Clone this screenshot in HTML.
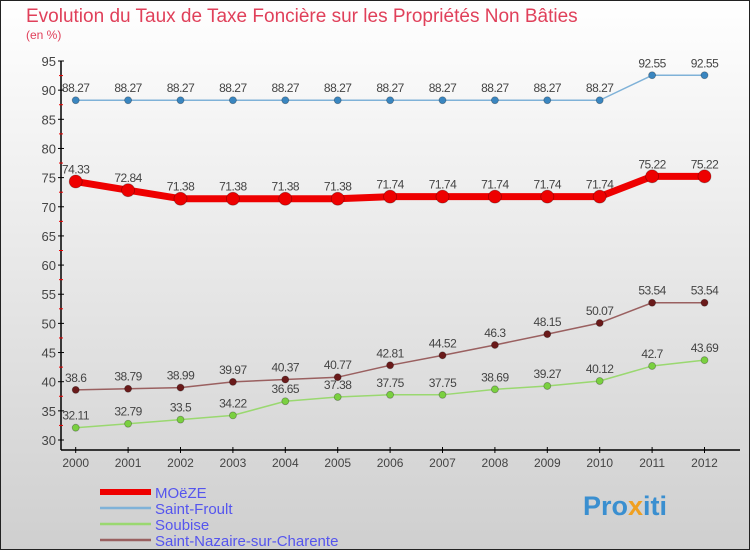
<!DOCTYPE html>
<html><head><meta charset="utf-8"><style>
body{margin:0;width:750px;height:550px;overflow:hidden;font-family:"Liberation Sans",sans-serif}
svg{display:block}
</style></head><body>
<svg width="750" height="550" viewBox="0 0 750 550">
<defs><linearGradient id="bg" x1="0" y1="0" x2="0" y2="1"><stop offset="0" stop-color="#ffffff"/><stop offset="1" stop-color="#cfcfcf"/></linearGradient></defs>
<rect x="0.5" y="0.5" width="749" height="549" fill="url(#bg)" stroke="#222"/>
<text x="26" y="22" font-size="19" fill="#e0405a">Evolution du Taux de Taxe Foncière sur les Propriétés Non Bâties</text>
<text x="26" y="39" font-size="12" fill="#e0405a">(en %)</text>
<g id="axes"></g>
<g id="series"></g>
<g id="legend"></g>
<text x="583" y="515" font-size="27" font-weight="bold" fill="#3a8fd0">Pro<tspan fill="#f0a020">x</tspan>iti</text>
</svg>
<script>
const years=[2000,2001,2002,2003,2004,2005,2006,2007,2008,2009,2010,2011,2012];
const yTicks=[30,35,40,45,50,55,60,65,70,75,80,85,90,95];
const moeze=[74.33,72.84,71.38,71.38,71.38,71.38,71.74,71.74,71.74,71.74,71.74,75.22,75.22];
const froult=[88.27,88.27,88.27,88.27,88.27,88.27,88.27,88.27,88.27,88.27,88.27,92.55,92.55];
const soubise=[32.11,32.79,33.5,34.22,36.65,37.38,37.75,37.75,38.69,39.27,40.12,42.7,43.69];
const nazaire=[38.6,38.79,38.99,39.97,40.37,40.77,42.81,44.52,46.3,48.15,50.07,53.54,53.54];
const NS="http://www.w3.org/2000/svg";
const X=i=>75.7+i*52.4;
const Y=v=>440-(v-30)*(379/65);
function mk(t,a,p){const e=document.createElementNS(NS,t);for(const k in a)e.setAttribute(k,a[k]);p.appendChild(e);return e;}
const ax=document.getElementById('axes');
let l=mk('line',{x1:61,y1:Y(95),x2:61,y2:450,stroke:'#000','stroke-width':1.5},ax);


l=mk('line',{x1:61,y1:450,x2:740,y2:450,stroke:'#000','stroke-width':1.5},ax);


yTicks.forEach(v=>{
 const y=Y(v);
 mk('line',{x1:58,y1:y,x2:64,y2:y,stroke:'#000'},ax);
 const t=mk('text',{x:56,y:y+5,'font-size':13,fill:'#444','text-anchor':'end'},ax);t.textContent=v;
 
 
 if(v<95) mk('line',{x1:59,y1:Y(v+2.5),x2:63,y2:Y(v+2.5),stroke:'#e00'},ax);
});
years.forEach((yr,i)=>{
 const x=X(i);
 mk('line',{x1:x,y1:447,x2:x,y2:453,stroke:'#000'},ax);
 const t=mk('text',{x:x,y:467,'font-size':12,fill:'#444','text-anchor':'middle'},ax);t.textContent=yr;
 
 
});
const sg=document.getElementById('series');
function series(vals,color,w,r,dot,name){
 const g=mk('g',{},sg);
 
 
 mk('polyline',{points:vals.map((v,i)=>X(i)+','+Y(v)).join(' '),fill:'none',stroke:color,'stroke-width':w,'stroke-linejoin':'round'},g);
 vals.forEach((v,i)=>{
  const c=mk('circle',{cx:X(i),cy:Y(v),r:r,fill:dot,stroke:'rgba(0,0,0,0.3)','stroke-width':0.8},g);
  
  
  const t=mk('text',{x:X(i),y:Y(v)-8,'font-size':12,fill:'#444','text-anchor':'middle','letter-spacing':'-0.5'},g);t.textContent=v;
  
  
 });
}
series(froult,'#7fb2d8',1.5,3.5,'#3a86c0','saint-froult-series');
series(nazaire,'#9a6060',1.5,3.5,'#6a1a1a','saint-nazaire-series');
series(soubise,'#9ad870',1.5,3.5,'#7ad040','soubise-series');
series(moeze,'#ee0000',7,6.5,'#ee0000','moeze-series');
const lg=document.getElementById('legend');
[['MOëZE','#ee0000',6],['Saint-Froult','#7fb2d8',2.5],['Soubise','#9ad870',2.5],['Saint-Nazaire-sur-Charente','#9a6060',2.5]].forEach((d,i)=>{
 const y=492+i*16;
 const g=mk('g',{},lg);
 
 
 mk('line',{x1:100,y1:y,x2:151,y2:y,stroke:d[1],'stroke-width':d[2]},g);
 const t=mk('text',{x:155,y:y+6,'font-size':15,fill:'#5555ee'},g);t.textContent=d[0];
});
</script>
</body></html>
